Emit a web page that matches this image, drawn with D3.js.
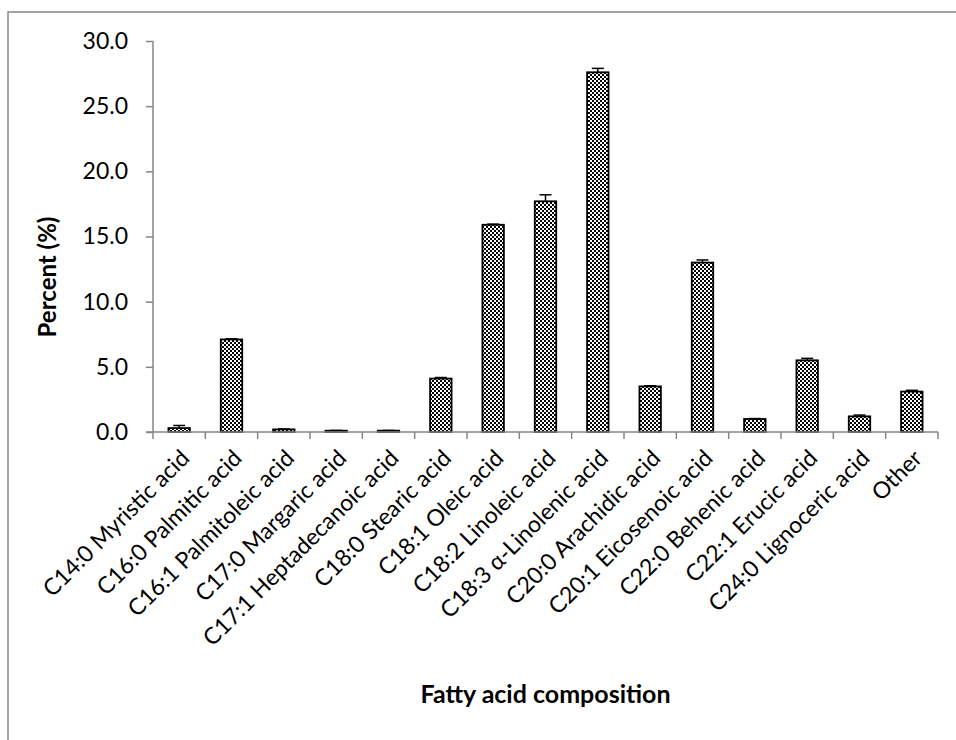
<!DOCTYPE html>
<html>
<head>
<meta charset="utf-8">
<script src="https://cdn.jsdelivr.net/npm/d3@7"></script>
<style>
  body { margin: 0; background: #fff; }
  text { font-family: Lato, "Open Sans", sans-serif; fill: #000; }
</style>
</head>
<body>
<script>
// data
var categories = ["C14:0 Myristic acid", "C16:0 Palmitic acid", "C16:1 Palmitoleic acid",
  "C17:0 Margaric acid", "C17:1 Heptadecanoic acid", "C18:0 Stearic acid", "C18:1 Oleic acid",
  "C18:2 Linoleic acid", "C18:3 \u03b1-Linolenic acid", "C20:0 Arachidic acid",
  "C20:1 Eicosenoic acid", "C22:0 Behenic acid", "C22:1 Erucic acid", "C24:0 Lignoceric acid", "Other"];
var values = [0.3, 7.1, 0.2, 0.1, 0.1, 4.1, 15.9, 17.7, 27.6, 3.5, 13.0, 1.0, 5.5, 1.2, 3.1];
var errors = [0.2, 0.05, 0.03, 0.02, 0.02, 0.08, 0.05, 0.5, 0.3, 0.05, 0.2, 0.03, 0.15, 0.1, 0.1];
var yTicks = [0, 5, 10, 15, 20, 25, 30];

var W = 956, H = 740;
var plotLeft = 153, plotRight = 938, plotTop = 41, plotBottom = 432;
var axisColor = "#868686";

var svg = d3.select("body").append("svg")
  .attr("width", W).attr("height", H);

// checker pattern for bars
var pat = svg.append("defs").append("pattern")
  .attr("id", "checker")
  .attr("patternUnits", "userSpaceOnUse")
  .attr("width", 4).attr("height", 4);
pat.append("rect").attr("width", 4).attr("height", 4).attr("fill", "#fff");
pat.append("rect").attr("width", 2).attr("height", 2).attr("fill", "#000");
pat.append("rect").attr("x", 2).attr("y", 2).attr("width", 2).attr("height", 2).attr("fill", "#000");

// outer chart border (runs off right and bottom)
svg.append("rect")
  .attr("x", 8).attr("y", 12)
  .attr("width", W + 20).attr("height", H + 20)
  .attr("fill", "none").attr("stroke", axisColor).attr("stroke-width", 1.5);

var x = d3.scaleBand().domain(categories).range([plotLeft, plotRight]);
var y = d3.scaleLinear().domain([0, 30]).range([plotBottom, plotTop]);
var barW = x.step() * 0.41;

// y axis
var yAxis = svg.append("g")
  .attr("transform", "translate(" + plotLeft + ",0)")
  .call(d3.axisLeft(y).tickValues(yTicks).tickSize(7).tickPadding(18)
    .tickFormat(d3.format(".1f")));
yAxis.select(".domain").remove();
yAxis.selectAll(".tick line").attr("stroke", axisColor).attr("stroke-width", 1.5);
yAxis.selectAll(".tick text").style("font-size", "23px").attr("fill", "#000");
svg.append("line")
  .attr("x1", plotLeft).attr("x2", plotLeft).attr("y1", plotTop).attr("y2", plotBottom)
  .attr("stroke", axisColor).attr("stroke-width", 1.5);

// bars
svg.append("g").selectAll("rect")
  .data(values)
  .join("rect")
  .attr("x", function(d, i) { return x(categories[i]) + (x.step() - barW) / 2; })
  .attr("y", function(d) { return y(d); })
  .attr("width", barW)
  .attr("height", function(d) { return plotBottom - y(d); })
  .attr("fill", "url(#checker)")
  .attr("stroke", "#000")
  .attr("stroke-width", 1.8);

// error bars (upper half shows)
var eb = svg.append("g").selectAll("g")
  .data(values)
  .join("g")
  .attr("stroke", "#000").attr("stroke-width", 1.5);
eb.append("line")
  .attr("x1", function(d, i) { return x(categories[i]) + x.step() / 2; })
  .attr("x2", function(d, i) { return x(categories[i]) + x.step() / 2; })
  .attr("y1", function(d) { return y(d); })
  .attr("y2", function(d, i) { return y(d + errors[i]); });
eb.append("line")
  .attr("x1", function(d, i) { return x(categories[i]) + x.step() / 2 - 6; })
  .attr("x2", function(d, i) { return x(categories[i]) + x.step() / 2 + 6; })
  .attr("y1", function(d, i) { return y(d + errors[i]); })
  .attr("y2", function(d, i) { return y(d + errors[i]); });

// x axis line and ticks at band edges
svg.append("line")
  .attr("x1", plotLeft - 7).attr("x2", plotRight).attr("y1", plotBottom).attr("y2", plotBottom)
  .attr("stroke", axisColor).attr("stroke-width", 1.5);
var edges = categories.map(function(c) { return x(c); }).concat([plotRight]);
svg.append("g").selectAll("line")
  .data(edges)
  .join("line")
  .attr("x1", function(d) { return d; }).attr("x2", function(d) { return d; })
  .attr("y1", plotBottom).attr("y2", plotBottom + 7)
  .attr("stroke", axisColor).attr("stroke-width", 1.5);

// rotated category labels
svg.append("g").selectAll("text")
  .data(categories)
  .join("text")
  .attr("transform", function(d) {
    return "translate(" + (x(d) + x.step() / 2 + 6) + "," + (plotBottom + 22) + ") rotate(-45)";
  })
  .attr("text-anchor", "end")
  .attr("dy", "0.35em")
  .style("font-size", "23px")
  .text(function(d) { return d; });

// axis titles
svg.append("text")
  .attr("transform", "translate(56,277) rotate(-90)")
  .attr("text-anchor", "middle")
  .style("font-size", "24px").style("font-weight", "bold")
  .text("Percent (%)");
svg.append("text")
  .attr("x", (plotLeft + plotRight) / 2).attr("y", 703)
  .attr("text-anchor", "middle")
  .style("font-size", "25px").style("font-weight", "bold")
  .text("Fatty acid composition");
</script>
</body>
</html>
